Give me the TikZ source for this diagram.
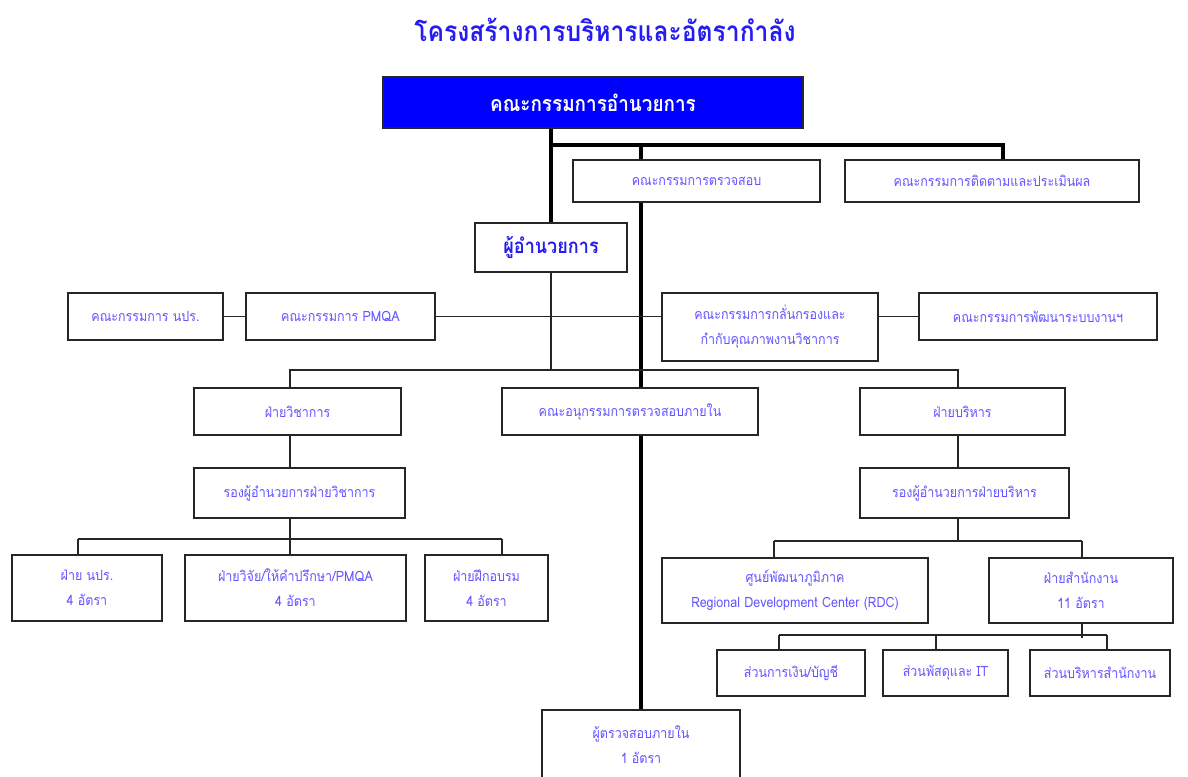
\documentclass[tikz,border=0pt]{standalone}
\usepackage{fontspec}
\setmainfont{Loma}[Script=Thai, FakeStretch=0.88]
\usetikzlibrary{
		positioning,
		backgrounds
	}
\definecolor{boxtext}{RGB}{100,84,255}
\definecolor{titleblue}{RGB}{36,28,240}
\definecolor{boardblue}{RGB}{0,0,255}
\tikzset{
		box/.style={draw=black!85, line width=1.1pt, fill=white, text=boxtext, inner sep=0pt, align=center, font=\fontsize{14.2}{25}\selectfont},
		link/.style={draw=black!85, line width=1.1pt},
		trunk/.style={draw=black, line width=3.6pt, line cap=rect}
	}

\begin{document}
\begin{tikzpicture}[x=1pt, y=-1pt] % (one unit = one pixel of the chart, y grows downwards)
		\useasboundingbox (0,0) rectangle (1188,776);
		\node[font=\fontsize{28}{32}\selectfont\bfseries, text=titleblue] (title) at (605,30) {โครงสร้างการบริหารและอัตรากำลัง};
		% top level
		\node[box, fill=boardblue, text=white, font=\fontsize{21.5}{24}\selectfont\bfseries, minimum width=420, minimum height=51] (board) at (593,102.5) {คณะกรรมการอำนวยการ};
		\node[box, minimum width=247, minimum height=42] (audit) at (696.5,181) {คณะกรรมการตรวจสอบ};
		\node[box, minimum width=294, minimum height=42] (monitor) at (992,181) {คณะกรรมการติดตามและประเมินผล};
		\node[box, text=titleblue, font=\fontsize{20.5}{23}\selectfont\bfseries, minimum width=152, minimum height=49] (director) at (551,247.5) {ผู้อำนวยการ};
		% committees
		\node[box, minimum width=155, minimum height=47] (npr) at (145.5,316.5) {คณะกรรมการ นปร.};
		\node[box, minimum width=189, minimum height=47] (pmqa) at (340.5,316.5) {คณะกรรมการ PMQA};
		\node[box, minimum width=216, minimum height=68] (screen) at (770,327) {คณะกรรมการกลั่นกรองและ\\กำกับคุณภาพงานวิชาการ};
		\node[box, minimum width=238, minimum height=47] (devsys) at (1038,316.5) {คณะกรรมการพัฒนาระบบงานฯ};
		% divisions
		\node[box, minimum width=207, minimum height=47] (acad) at (297.5,411.5) {ฝ่ายวิชาการ};
		\node[box, minimum width=256, minimum height=47] (subaudit) at (630,411.5) {คณะอนุกรรมการตรวจสอบภายใน};
		\node[box, minimum width=205, minimum height=47] (admin) at (962.5,411.5) {ฝ่ายบริหาร};
		\node[box, minimum width=211, minimum height=50] (vacad) at (299.5,493) {รองผู้อำนวยการฝ่ายวิชาการ};
		\node[box, minimum width=209, minimum height=50] (vadmin) at (964.5,493) {รองผู้อำนวยการฝ่ายบริหาร};
		% units
		\node[box, minimum width=150, minimum height=66] (dnpr) at (87,588) {ฝ่าย นปร.\\4 อัตรา};
		\node[box, minimum width=221, minimum height=66] (dres) at (295.5,588) {ฝ่ายวิจัย/ให้คำปรึกษา/PMQA\\4 อัตรา};
		\node[box, minimum width=123, minimum height=66] (dtrain) at (486.5,588) {ฝ่ายฝึกอบรม\\4 อัตรา};
		\node[box, minimum width=266, minimum height=65] (rdc) at (795,590.5) {ศูนย์พัฒนาภูมิภาค\\Regional Development Center (RDC)};
		\node[box, minimum width=184, minimum height=65] (office) at (1081,590.5) {ฝ่ายสำนักงาน\\11 อัตรา};
		\node[box, minimum width=148, minimum height=46] (fin) at (791,673) {ส่วนการเงิน/บัญชี};
		\node[box, minimum width=125, minimum height=46] (supp) at (945.5,673) {ส่วนพัสดุและ IT};
		\node[box, minimum width=140, minimum height=46] (offadm) at (1100,673) {ส่วนบริหารสำนักงาน};
		\node[box, minimum width=198, minimum height=70] (auditor) at (641,745) {ผู้ตรวจสอบภายใน\\1 อัตรา};
		% connectors, behind the boxes
		\begin{scope}[on background layer]
		  \coordinate (j1) at (551,145); \coordinate (j2) at (641,145); \coordinate (j3) at (1003,145);
		  \draw[trunk] (j1 |- board.south) -- (director.north);
		  \draw[trunk] (j1) -- (j3) -- (j3 |- monitor.north);
		  \draw[trunk] (j2) -- (auditor.north); % runs on through the audit boxes
		  \draw[link] (npr.east) -- (pmqa.west);
		  \draw[link] (pmqa.east) -- (pmqa.east -| screen.west);
		  \draw[link] (screen.east |- devsys.west) -- (devsys.west);
		  \coordinate (b1l) at (290,370); \coordinate (b1r) at (958,370);
		  \draw[link] (director.south) -- (director.south |- b1l);
		  \draw[link] (b1l |- acad.north) -- (b1l) -- (b1r) -- (b1r |- admin.north);
		  \draw[link] (b1l |- acad.south) -- (b1l |- vacad.north);
		  \draw[link] (b1r |- admin.south) -- (b1r |- vadmin.north);
		  \coordinate (b2) at (290,539);
		  \draw[link] (b2 |- vacad.south) -- (b2);
		  \draw[link] (78,539) -- (502,539);
		  \foreach \x/\n in {78/dnpr,290/dres,502/dtrain}{
			\coordinate (t) at (\x,539); \draw[link] (t) -- (t |- \n.north);
		  }
		  \coordinate (b3) at (958,541);
		  \draw[link] (b3 |- vadmin.south) -- (b3);
		  \draw[link] (774,541) -- (1082,541);
		  \foreach \x/\n in {774/rdc,1082/office}{
			\coordinate (t) at (\x,541); \draw[link] (t) -- (t |- \n.north);
		  }
		  \coordinate (b4) at (1082,638);
		  \draw[link] (b4 |- office.south) -- (b4);
		  \draw[link] (779,635) -- (1107,635);
		  \foreach \x/\n in {779/fin,936/supp,1107/offadm}{
			\coordinate (t) at (\x,635); \draw[link] (t) -- (t |- \n.north);
		  }
		\end{scope}
	\end{tikzpicture}
\end{document}
